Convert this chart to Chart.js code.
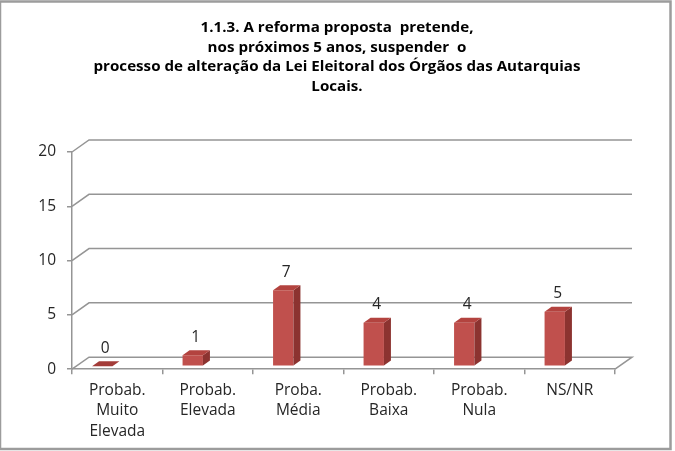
<!DOCTYPE html>
<html>
<head>
<meta charset="utf-8">
<script src="https://cdn.jsdelivr.net/npm/chart.js@4"></script>
<style>
html,body{margin:0;padding:0;background:#fff;}
#wrap{position:relative;width:675px;height:451px;}
</style>
</head>
<body>
<div id="wrap"><canvas id="c" width="675" height="451"></canvas></div>
<script>
const titleLines = ["1.1.3. A reforma proposta  pretende,", "nos próximos 5 anos, suspender  o", "processo de alteração da Lei Eleitoral dos Órgãos das Autarquias", "Locais."];
const categories = [["Probab.","Muito","Elevada"],["Probab.","Elevada"],["Proba.","Média"],["Probab.","Baixa"],["Probab.","Nula"],"NS/NR"];
const values = [0, 1, 7, 4, 4, 5];
const yTicks = [0, 5, 10, 15, 20];

const FONT = "'Open Sans', Lato, sans-serif";
const WALL_DX = 17, WALL_DY = -12;   // depth of plot box
const BAR_DX = 7, BAR_DY = -5;       // depth of bars
const BAR_SHIFT_X = -15, BAR_SHIFT_Y = -3;
const GRID = '#959595';

const depthPlugin = {
  id: 'depth',
  beforeDraw(chart) {
    const ctx = chart.ctx;
    ctx.save();
    ctx.fillStyle = '#fff';
    ctx.fillRect(0, 0, chart.width, chart.height);
    ctx.strokeStyle = '#9c9c9c';
    ctx.lineWidth = 2.5;
    ctx.strokeRect(0, 1.5, 670.5, 447.5);
    ctx.restore();
  },
  beforeDatasetsDraw(chart) {
    const ctx = chart.ctx, y = chart.scales.y, x = chart.scales.x;
    const L = x.left, R = x.right;
    ctx.save();
    ctx.strokeStyle = GRID;
    ctx.lineWidth = 1.5;
    yTicks.forEach(v => {
      const py = y.getPixelForValue(v);
      ctx.beginPath();
      ctx.moveTo(L, py);
      ctx.lineTo(L + WALL_DX, py + WALL_DY);
      ctx.lineTo(R + WALL_DX, py + WALL_DY);
      if (v === 0) ctx.lineTo(R, py);
      ctx.stroke();
    });
    ctx.restore();
  },
  beforeDatasetDraw(chart) {
    chart.ctx.save();
    chart.ctx.translate(BAR_SHIFT_X, BAR_SHIFT_Y);
  },
  afterDatasetDraw(chart, args) {
    const ctx = chart.ctx;
    const meta = args.meta;
    meta.data.forEach((bar, i) => {
      const p = bar.getProps(['x', 'y', 'base', 'width'], true);
      const l = p.x - p.width / 2, r = p.x + p.width / 2, t = p.y, b = p.base;
      if (b - t > 0.5) {
        ctx.fillStyle = '#8c3330';
        ctx.beginPath();
        ctx.moveTo(r, b); ctx.lineTo(r + BAR_DX, b + BAR_DY);
        ctx.lineTo(r + BAR_DX, t + BAR_DY); ctx.lineTo(r, t); ctx.closePath();
        ctx.fill();
      }
      ctx.fillStyle = values[i] === 0 ? '#a33c39' : '#b3433f';
      ctx.beginPath();
      ctx.moveTo(l, t); ctx.lineTo(l + BAR_DX, t + BAR_DY);
      ctx.lineTo(r + BAR_DX, t + BAR_DY); ctx.lineTo(r, t); ctx.closePath();
      ctx.fill();
      ctx.fillStyle = '#262626';
      ctx.font = '15.5px ' + FONT;
      ctx.textAlign = 'center';
      ctx.textBaseline = 'middle';
      ctx.fillText(String(values[i]), p.x + 3, t - 18);
    });
    ctx.restore();
  },
  afterDraw(chart) {
    const ctx = chart.ctx;
    ctx.save();
    ctx.fillStyle = '#000';
    ctx.font = 'bold 14px ' + FONT;
    ctx.textAlign = 'center';
    ctx.textBaseline = 'middle';
    const k = Math.min(1.2, Math.max(0.85, 487 / ctx.measureText(titleLines[2]).width));
    titleLines.forEach((s, i) => {
      ctx.save();
      ctx.translate(337, 28.5 + i * 19.4);
      ctx.scale(k, 1);
      ctx.fillText(s, 0, 0);
      ctx.restore();
    });
    ctx.restore();
  }
};

new Chart(document.getElementById('c'), {
  type: 'bar',
  data: {
    labels: categories,
    datasets: [{
      data: values,
      backgroundColor: '#c0504d',
      borderWidth: 0,
      barPercentage: 0.225,
      categoryPercentage: 1
    }]
  },
  options: {
    responsive: false,
    animation: false,
    devicePixelRatio: 1,
    layout: { padding: { left: 0, right: 60, top: 152, bottom: 3 } },
    plugins: { legend: { display: false }, tooltip: { enabled: false } },
    scales: {
      x: {
        grid: { display: true, drawOnChartArea: false, drawTicks: true, tickLength: 5, color: GRID, lineWidth: 1.5, offset: true },
        border: { display: true, color: GRID, width: 1.5 },
        ticks: { color: '#262626', font: { family: FONT, size: 15.5, lineHeight: 1.33 }, padding: 6, maxRotation: 0, autoSkip: false }
      },
      y: {
        min: 0, max: 20,
        afterBuildTicks(s) { s.ticks = yTicks.map(v => ({ value: v })); },
        afterFit(s) { s.width = 72; },
        grid: { display: true, drawOnChartArea: false, drawTicks: true, tickLength: 5, color: GRID, lineWidth: 1.5 },
        border: { display: true, color: GRID, width: 1.5 },
        ticks: { color: '#262626', font: { family: FONT, size: 15.5 }, padding: 11 }
      }
    }
  },
  plugins: [depthPlugin]
});
</script>
</body>
</html>
